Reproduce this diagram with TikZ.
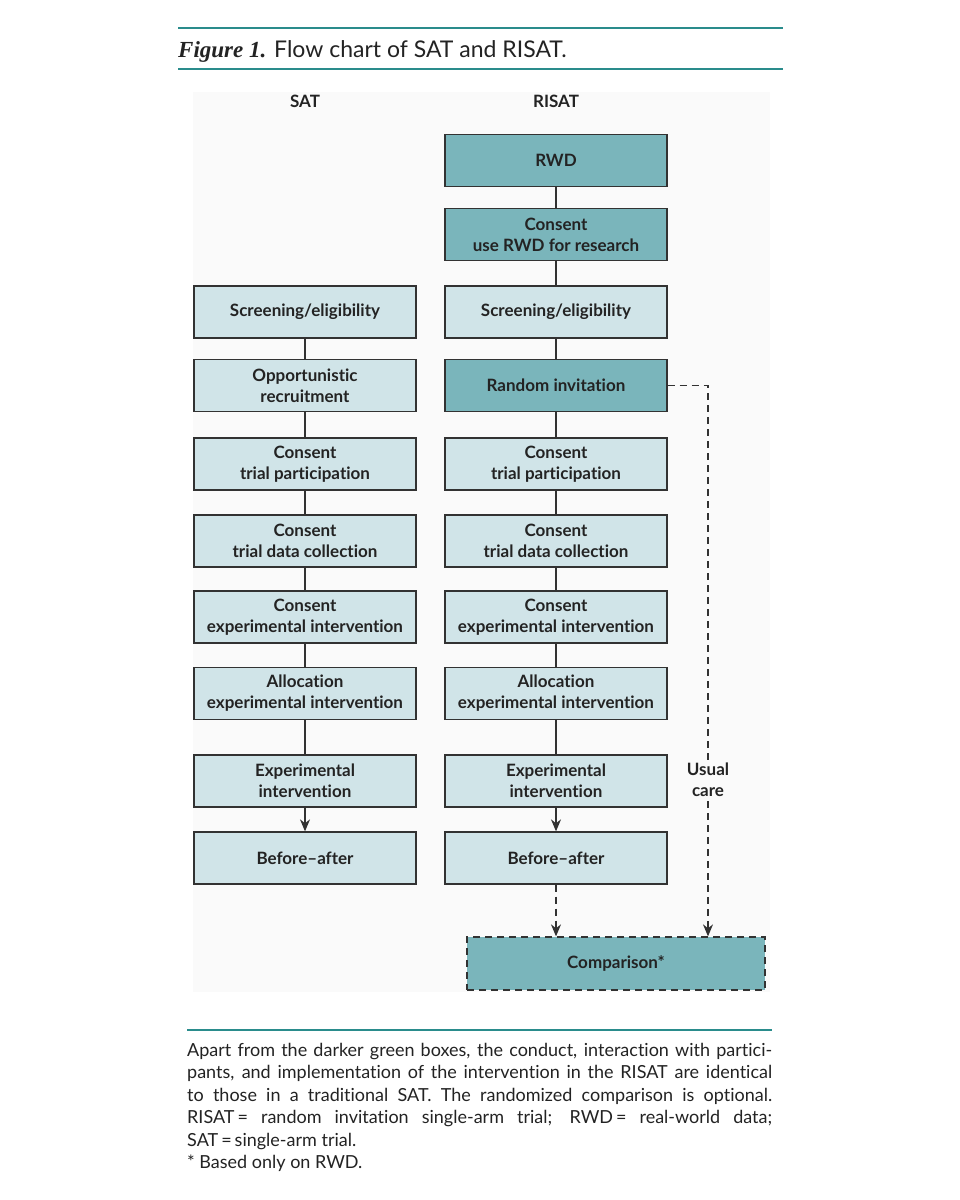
\documentclass[tikz,border=0pt]{standalone}
\usepackage{fontspec}
\setmainfont{Lato}[Ligatures=NoCommon]
\newfontfamily\serifit{Liberation Serif}
\usetikzlibrary{arrows.meta}
\definecolor{teal1}{RGB}{42,140,140}
\definecolor{darkbox}{RGB}{122,181,187}
\definecolor{lightbox}{RGB}{208,228,232}
\definecolor{edge}{RGB}{50,50,50}
\definecolor{panel}{RGB}{250,250,250}
\definecolor{txt}{RGB}{35,35,35}
\begin{document}
\begin{tikzpicture}[x=1pt,y=-1pt,
 box/.style={draw=edge,line width=1.3pt,minimum width=222pt,minimum height=52pt,align=center,
   font=\fontsize{17}{21}\selectfont\bfseries,text=txt,inner sep=0pt},
 lbox/.style={box,fill=lightbox},
 dbox/.style={box,fill=darkbox},
 link/.style={draw=edge,line width=1.3pt},
 arr/.style={link,-{Stealth[length=12pt,width=10pt]}},
 dlink/.style={link,dash pattern=on 7pt off 5pt},
 rule/.style={draw=teal1,line width=2.2pt},
 head/.style={font=\fontsize{17}{21}\selectfont\bfseries,text=txt}
]
\useasboundingbox (0,0) rectangle (960,1200);
\fill[white] (0,0) rectangle (960,1200);
\fill[panel] (193,92) rectangle (770,992);

% title rules
\coordinate (t1a) at (178,28); \coordinate (t1b) at (783,28);
\coordinate (t2a) at (178,69); \coordinate (t2b) at (783,69);
\draw[rule] (t1a) -- (t1b);
\draw[rule] (t2a) -- (t2b);
\node[anchor=base west,inner sep=0pt,text=txt,font=\fontsize{23}{28}\selectfont] (title) at (178,57)
 {{\serifit\bfseries\itshape Figure 1.} Flow chart of SAT and RISAT.};

% column heads
\node[head] (hsat) at (305,101) {SAT};
\node[head] (hrisat) at (556,101) {RISAT};

% right column
\node[dbox] (rwd) at (556,160.5) {RWD};
\node[dbox] (crwd) at (556,234.5) {Consent\\use RWD for research};
\node[lbox] (rscr) at (556,312) {Screening/eligibility};
\node[dbox] (rinv) at (556,385.5) {Random invitation};
\node[lbox] (rctp) at (556,464) {Consent\\trial participation};
\node[lbox] (rcdc) at (556,541) {Consent\\trial data collection};
\node[lbox] (rcei) at (556,617) {Consent\\experimental intervention};
\node[lbox] (ralo) at (556,693.5) {Allocation\\experimental intervention};
\node[lbox] (rexp) at (556,781) {Experimental\\intervention};
\node[lbox] (rba) at (556,858) {Before--after};

% left column
\node[lbox] (lscr) at (305,312) {Screening/eligibility};
\node[lbox] (lopp) at (305,385.5) {Opportunistic\\recruitment};
\node[lbox] (lctp) at (305,464) {Consent\\trial participation};
\node[lbox] (lcdc) at (305,541) {Consent\\trial data collection};
\node[lbox] (lcei) at (305,617) {Consent\\experimental intervention};
\node[lbox] (lalo) at (305,693.5) {Allocation\\experimental intervention};
\node[lbox] (lexp) at (305,781) {Experimental\\intervention};
\node[lbox] (lba) at (305,858) {Before--after};

% comparison
\node[dbox,dash pattern=on 7pt off 5pt,minimum width=298pt,minimum height=53pt] (cmp) at (616,963.5) {Comparison*};

% connectors right
\draw[link] (rwd) -- (crwd);
\draw[link] (crwd) -- (rscr);
\draw[link] (rscr) -- (rinv);
\draw[link] (rinv) -- (rctp);
\draw[link] (rctp) -- (rcdc);
\draw[link] (rcdc) -- (rcei);
\draw[link] (rcei) -- (ralo);
\draw[link] (ralo) -- (rexp);
\draw[arr] (rexp) -- (rba);
\draw[dlink,-{Stealth[length=12pt,width=10pt]}] (rba) -- (rba |- cmp.north);

% connectors left
\draw[link] (lscr) -- (lopp);
\draw[link] (lopp) -- (lctp);
\draw[link] (lctp) -- (lcdc);
\draw[link] (lcdc) -- (lcei);
\draw[link] (lcei) -- (lalo);
\draw[link] (lalo) -- (lexp);
\draw[arr] (lexp) -- (lba);

% usual care
\coordinate (ucx) at (708,0);
\draw[dlink,-{Stealth[length=12pt,width=10pt]}] (rinv.east) -| (ucx |- cmp.north);
\node[head,fill=panel,align=center,inner sep=2pt] (uc) at (708,780) {Usual\\care};

% bottom rule and caption
\coordinate (b1a) at (187,1030); \coordinate (b1b) at (772,1030);
\draw[rule] (b1a) -- (b1b);
\node[anchor=north west,inner sep=0pt,text width=585pt,align=justify,text=txt,
  font=\fontsize{18}{22.4}\selectfont] (cap) at (187,1043)
 {Apart from the darker green boxes, the conduct, interaction with partici-\linebreak
 pants, and implementation of the intervention in the RISAT are identical\linebreak
 to those in a traditional SAT. The randomized comparison is optional.\linebreak
 RISAT\,= random invitation single-arm trial; RWD\,= real-world data;\linebreak
 SAT\,=\,single-arm trial.\\
 {*} Based only on RWD.};
\end{tikzpicture}
\end{document}
